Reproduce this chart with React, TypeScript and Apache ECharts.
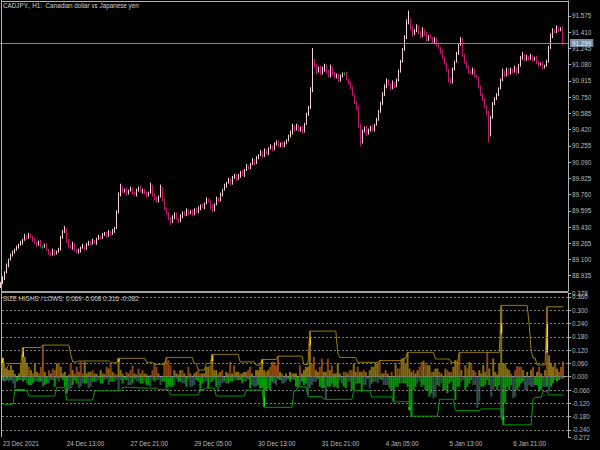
import React, { useEffect, useRef } from "react";
import * as echarts from "echarts";

// ---------- axis ticks & labels ----------
const priceTicks = [88.935, 89.1, 89.265, 89.43, 89.595, 89.76, 89.925, 90.09, 90.255, 90.42, 90.585, 90.75, 90.915, 91.08, 91.245, 91.41, 91.575];
const priceMin = 88.78;
const priceMax = 91.727;
const indTicks = [-0.24, -0.18, -0.12, -0.06, 0, 0.06, 0.12, 0.18, 0.24, 0.3, 0.36];
const indEdgeTicks = [-0.272, 0.378];
const indMin = -0.272;
const indMax = 0.378;
const gridLevels = [-0.24, -0.18, -0.12, -0.06, 0, 0.06, 0.12, 0.18, 0.24, 0.3, 0.36];
const timeLabels = ["23 Dec 2021", "24 Dec 13:00", "27 Dec 21:00", "29 Dec 05:00", "30 Dec 13:00", "31 Dec 21:00", "4 Jan 05:00", "5 Jan 13:00", "6 Jan 21:00"];
const LABEL_STEP = 32;
const bidPrice = 91.299;

// ---------- price data (H1 CADJPY) ----------
const firstOpen = 88.84;
const closes = [
  88.86, 88.91, 88.97, 89.04, 89.10, 89.14, 89.18, 89.20, 89.22, 89.25,
  89.27, 89.30, 89.34, 89.32, 89.35, 89.33, 89.30, 89.27, 89.25, 89.28,
  89.23, 89.23, 89.25, 89.20, 89.17, 89.15, 89.19, 89.16, 89.18, 89.20,
  89.32, 89.38, 89.41, 89.30, 89.24, 89.22, 89.26, 89.20, 89.17, 89.19,
  89.22, 89.24, 89.21, 89.25, 89.28, 89.26, 89.29, 89.27, 89.31, 89.33,
  89.32, 89.35, 89.37, 89.34, 89.38, 89.36, 89.39, 89.42, 89.58, 89.75,
  89.83, 89.79, 89.81, 89.77, 89.80, 89.82, 89.78, 89.76, 89.80, 89.83,
  89.79, 89.81, 89.77, 89.75, 89.78, 89.85, 89.76, 89.72, 89.69, 89.74,
  89.83, 89.71, 89.62, 89.56, 89.52, 89.48, 89.53, 89.57, 89.51, 89.49,
  89.54, 89.58, 89.55, 89.60, 89.57, 89.59, 89.56, 89.61, 89.58, 89.62,
  89.65, 89.63, 89.67, 89.71, 89.69, 89.64, 89.60, 89.66, 89.72, 89.70,
  89.76, 89.81, 89.85, 89.88, 89.91, 89.87, 89.93, 89.96, 89.92, 89.95,
  89.99, 89.96, 90.01, 90.05, 90.03, 90.07, 90.11, 90.08, 90.13, 90.16,
  90.19, 90.15, 90.21, 90.18, 90.23, 90.25, 90.22, 90.27, 90.30, 90.26,
  90.28, 90.25, 90.29, 90.31, 90.35, 90.39, 90.45, 90.42, 90.46, 90.41,
  90.44, 90.40, 90.48, 90.57, 90.64, 90.82, 91.11, 91.07, 91.01, 91.05,
  90.99, 91.03, 91.07, 91.01, 90.96, 91.05, 90.99, 90.95, 90.98, 90.92,
  90.96, 90.99, 90.99, 90.93, 90.90, 90.84, 90.77, 90.70, 90.64, 90.47,
  90.30, 90.40, 90.44, 90.38, 90.42, 90.45, 90.41, 90.47, 90.52, 90.60,
  90.68, 90.77, 90.86, 90.92, 90.88, 90.84, 90.90, 90.86, 90.92, 91.01,
  91.11, 91.23, 91.35, 91.51, 91.53, 91.45, 91.39, 91.43, 91.47, 91.41,
  91.37, 91.43, 91.39, 91.33, 91.37, 91.35, 91.31, 91.34, 91.29, 91.25,
  91.21, 91.15, 91.09, 91.03, 90.93, 90.90, 91.03, 91.11, 91.19, 91.28,
  91.33, 91.18, 91.11, 91.05, 91.01, 90.99, 91.03, 90.97, 90.95, 90.86,
  90.78, 90.72, 90.66, 90.60, 90.37, 90.54, 90.68, 90.74, 90.77, 90.84,
  90.92, 91.01, 90.97, 91.03, 90.99, 91.03, 91.01, 91.05, 91.00, 91.07,
  91.15, 91.18, 91.13, 91.16, 91.14, 91.17, 91.13, 91.15, 91.11, 91.08,
  91.09, 91.05, 91.07, 91.11, 91.25, 91.37, 91.43, 91.41, 91.45, 91.43,
  91.44, 91.299,
];
// wick lengths above / below the body, in hundredths of a yen
const wickUp = [
  1, 2, 1, 2, 1, 2, 1, 1, 2, 1,
  2, 1, 2, 1, 2, 1, 1, 2, 1, 1,
  2, 1, 1, 2, 1, 1, 2, 1, 1, 2,
  2, 2, 3, 1, 1, 1, 2, 1, 1, 2,
  1, 2, 1, 2, 1, 1, 2, 1, 1, 2,
  1, 2, 1, 1, 2, 1, 2, 1, 2, 3,
  4, 2, 1, 2, 1, 2, 1, 1, 2, 1,
  2, 1, 1, 2, 1, 3, 1, 1, 2, 1,
  3, 1, 1, 1, 2, 1, 2, 1, 1, 1,
  2, 1, 1, 2, 1, 1, 2, 1, 1, 2,
  1, 2, 1, 2, 1, 1, 2, 1, 2, 1,
  2, 1, 2, 1, 2, 1, 2, 1, 1, 2,
  1, 2, 1, 2, 1, 1, 2, 1, 2, 1,
  2, 1, 2, 1, 1, 2, 1, 2, 1, 1,
  1, 2, 1, 1, 2, 2, 3, 1, 2, 1,
  1, 2, 1, 2, 2, 3, 14, 3, 2, 1,
  2, 3, 2, 1, 2, 3, 1, 2, 1, 1,
  2, 1, 1, 2, 1, 1, 2, 1, 1, 2,
  1, 2, 1, 2, 1, 1, 2, 1, 2, 2,
  2, 3, 2, 2, 1, 1, 2, 1, 2, 2,
  2, 2, 3, 3, 10, 2, 2, 1, 2, 1,
  1, 3, 1, 2, 1, 2, 1, 2, 1, 1,
  1, 2, 1, 1, 1, 2, 2, 1, 2, 2,
  3, 2, 1, 1, 2, 1, 2, 1, 1, 1,
  1, 1, 2, 1, 1, 2, 2, 1, 2, 1,
  2, 3, 1, 2, 1, 2, 1, 2, 1, 2,
  2, 3, 1, 2, 1, 2, 1, 1, 2, 1,
  1, 2, 1, 2, 2, 3, 2, 1, 3, 2,
  2, 3,
];
const wickDn = [
  3, 1, 2, 1, 2, 1, 1, 2, 1, 1,
  1, 2, 1, 2, 1, 1, 2, 1, 2, 1,
  1, 2, 1, 1, 2, 2, 1, 2, 1, 1,
  1, 1, 1, 3, 2, 1, 2, 2, 1, 1,
  2, 1, 2, 1, 1, 2, 1, 1, 2, 1,
  2, 1, 1, 2, 1, 2, 1, 2, 1, 1,
  1, 2, 1, 2, 1, 1, 2, 1, 2, 1,
  1, 2, 1, 2, 1, 1, 2, 2, 1, 1,
  1, 2, 2, 1, 2, 3, 1, 2, 1, 2,
  1, 2, 1, 1, 2, 1, 2, 1, 1, 1,
  2, 1, 2, 1, 1, 3, 2, 1, 1, 2,
  1, 2, 1, 2, 1, 2, 1, 1, 2, 1,
  2, 1, 2, 1, 2, 1, 1, 2, 1, 1,
  1, 2, 1, 1, 2, 1, 2, 1, 1, 2,
  2, 1, 1, 2, 1, 1, 2, 2, 1, 1,
  1, 2, 1, 1, 1, 1, 2, 2, 3, 1,
  2, 1, 2, 2, 1, 1, 2, 1, 1, 2,
  1, 1, 2, 1, 2, 1, 1, 2, 2, 3,
  5, 2, 1, 2, 1, 2, 1, 1, 1, 1,
  1, 1, 1, 2, 1, 2, 1, 2, 1, 1,
  1, 1, 1, 1, 2, 2, 3, 1, 2, 2,
  2, 1, 2, 2, 1, 1, 2, 1, 2, 1,
  2, 1, 1, 2, 3, 2, 1, 1, 1, 1,
  1, 2, 2, 1, 2, 1, 1, 2, 1, 2,
  2, 1, 2, 3, 8, 2, 1, 1, 2, 1,
  1, 1, 2, 1, 2, 1, 2, 1, 2, 1,
  1, 2, 2, 1, 2, 1, 2, 1, 2, 2,
  1, 2, 1, 1, 1, 1, 2, 1, 1, 2,
  1, 2,
];

// ---------- indicator: SIZE HIGHS / LOWS (values in thousandths) ----------
const highSizeMilli = [
  85, 37, 35, 30, 52, 30, 12, 0, 15, 60,
  132, 90, 60, 45, 30, 15, 60, 22, 15, 45,
  143, 22, 0, 30, 15, 37, 30, 60, 60, 45,
  15, 22, 0, 10, 60, 30, 15, 45, 22, 67,
  15, 67, 15, 22, 22, 30, 15, 12, 0, 30,
  15, 12, 45, 37, 60, 22, 15, 10, 83, 30,
  15, 0, 22, 15, 30, 52, 15, 10, 37, 15,
  30, 15, 12, 0, 7, 30, 60, 45, 15, 0,
  5, 67, 87, 75, 52, 0, 30, 15, 10, 30,
  30, 15, 0, 45, 15, 0, 15, 22, 30, 15,
  15, 15, 45, 45, 52, 101, 30, 30, 15, 22,
  30, 0, 22, 15, 67, 15, 52, 22, 22, 15,
  15, 22, 22, 30, 45, 15, 0, 30, 30, 45,
  78, 30, 22, 30, 45, 67, 67, 52, 93, 22,
  15, 0, 15, 0, 22, 15, 15, 15, 0, 52,
  15, 30, 45, 45, 206, 60, 90, 30, 22, 45,
  82, 22, 22, 82, 30, 52, 15, 15, 60, 15,
  0, 22, 22, 15, 30, 30, 60, 22, 45, 22,
  22, 30, 22, 0, 30, 45, 45, 60, 60, 73,
  15, 15, 30, 15, 0, 22, 0, 60, 37, 37,
  82, 83, 60, 110, 37, 22, 30, 15, 30, 45,
  67, 72, 60, 52, 52, 22, 22, 37, 37, 22,
  15, 0, 37, 30, 22, 22, 45, 75, 67, 110,
  30, 0, 52, 37, 67, 60, 30, 22, 0, 30,
  15, 52, 22, 110, 37, 0, 82, 22, 10, 60,
  322, 60, 60, 37, 30, 15, 0, 30, 48, 45,
  45, 30, 0, 22, 0, 30, 45, 0, 22, 45,
  15, 0, 30, 316, 97, 60, 45, 60, 37, 22,
  45, 69,
];
// 0 = olive, 1 = brown
const highKind = [
  0, 0, 0, 0, 0, 0, 0, 0, 0, 0,
  0, 0, 0, 1, 0, 1, 0, 0, 1, 1,
  1, 0, 0, 1, 0, 1, 1, 0, 1, 0,
  0, 0, 0, 0, 1, 0, 1, 1, 0, 1,
  1, 0, 0, 0, 0, 1, 0, 0, 1, 0,
  0, 0, 1, 0, 1, 0, 1, 1, 0, 0,
  0, 0, 1, 0, 1, 1, 0, 0, 1, 0,
  1, 0, 0, 0, 0, 1, 1, 1, 0, 0,
  0, 1, 1, 1, 1, 0, 0, 0, 0, 0,
  1, 0, 0, 1, 0, 0, 0, 0, 1, 1,
  0, 0, 0, 0, 1, 0, 0, 0, 1, 0,
  1, 0, 0, 0, 1, 0, 1, 0, 0, 1,
  0, 0, 0, 1, 1, 0, 0, 0, 0, 0,
  0, 0, 1, 0, 1, 1, 1, 1, 1, 0,
  1, 0, 0, 0, 0, 1, 0, 0, 0, 1,
  0, 0, 0, 0, 0, 1, 1, 0, 0, 1,
  1, 0, 0, 1, 0, 1, 0, 0, 0, 0,
  0, 1, 1, 0, 1, 1, 0, 0, 1, 0,
  0, 1, 0, 0, 0, 0, 0, 0, 0, 1,
  0, 0, 1, 0, 0, 1, 0, 0, 1, 1,
  0, 0, 0, 0, 0, 0, 1, 0, 0, 1,
  1, 0, 1, 0, 0, 1, 0, 0, 0, 1,
  0, 0, 0, 1, 0, 1, 0, 0, 0, 1,
  0, 0, 0, 1, 0, 1, 0, 1, 0, 0,
  0, 0, 0, 1, 0, 0, 0, 0, 0, 0,
  0, 0, 0, 0, 0, 1, 0, 1, 1, 1,
  1, 0, 0, 0, 0, 0, 1, 0, 0, 1,
  0, 0, 0, 1, 0, 0, 0, 1, 0, 1,
  1, 1,
];
const lowSizeMilli = [
  15, 22, 15, 22, 15, 30, 52, 22, 15, 15,
  22, 15, 30, 37, 37, 30, 22, 22, 22, 22,
  45, 37, 30, 30, 15, 15, 45, 10, 22, 7,
  15, 45, 75, 60, 52, 37, 15, 30, 52, 45,
  30, 30, 30, 52, 45, 22, 22, 22, 15, 30,
  30, 15, 10, 37, 22, 22, 22, 15, 60, 15,
  30, 10, 15, 37, 37, 30, 10, 22, 22, 30,
  30, 22, 37, 37, 45, 15, 22, 15, 15, 37,
  22, 22, 52, 45, 45, 45, 37, 10, 22, 22,
  30, 30, 45, 10, 45, 45, 37, 15, 22, 52,
  30, 22, 22, 52, 30, 22, 10, 45, 67, 45,
  30, 22, 30, 30, 22, 22, 15, 15, 15, 15,
  30, 22, 22, 10, 52, 37, 45, 45, 37, 52,
  52, 90, 60, 52, 60, 22, 30, 37, 10, 15,
  30, 30, 22, 10, 22, 10, 15, 45, 45, 37,
  22, 37, 30, 82, 52, 37, 22, 22, 10, 45,
  52, 52, 102, 45, 45, 30, 45, 45, 52, 15,
  30, 45, 52, 22, 22, 60, 60, 37, 30, 30,
  67, 37, 37, 10, 52, 30, 22, 22, 30, 10,
  15, 37, 37, 37, 52, 60, 112, 45, 45, 30,
  30, 30, 30, 45, 150, 178, 60, 45, 30, 22,
  45, 37, 60, 60, 90, 75, 97, 90, 37, 45,
  30, 60, 60, 75, 30, 22, 60, 105, 45, 45,
  22, 15, 60, 45, 30, 15, 37, 37, 142, 112,
  45, 45, 37, 15, 37, 90, 60, 45, 60, 37,
  195, 217, 120, 45, 60, 37, 97, 90, 60, 45,
  30, 22, 60, 60, 37, 45, 45, 37, 37, 67,
  60, 45, 45, 45, 67, 45, 30, 15, 22, 15,
  10, 8,
];
// 0 = green, 1 = dark slate
const lowKind = [
  0, 1, 0, 1, 0, 1, 1, 0, 0, 1,
  0, 0, 1, 0, 0, 0, 1, 1, 0, 0,
  1, 0, 0, 1, 1, 1, 0, 1, 1, 0,
  0, 0, 0, 1, 1, 0, 0, 0, 1, 1,
  1, 0, 0, 1, 1, 0, 0, 1, 1, 0,
  0, 1, 1, 1, 0, 0, 1, 1, 1, 1,
  0, 0, 0, 1, 1, 0, 0, 1, 1, 0,
  0, 1, 0, 0, 1, 1, 0, 1, 1, 1,
  0, 0, 0, 0, 0, 0, 1, 1, 0, 0,
  1, 1, 0, 0, 1, 1, 1, 0, 0, 0,
  0, 1, 1, 0, 1, 0, 0, 0, 1, 1,
  1, 0, 1, 0, 0, 0, 1, 1, 0, 0,
  0, 1, 1, 0, 0, 1, 1, 1, 0, 0,
  0, 0, 0, 1, 0, 0, 1, 1, 0, 0,
  1, 1, 1, 0, 0, 0, 1, 0, 0, 1,
  0, 0, 0, 1, 1, 1, 1, 1, 0, 0,
  0, 0, 1, 0, 0, 0, 0, 0, 0, 1,
  1, 0, 0, 1, 1, 0, 0, 1, 0, 0,
  0, 1, 1, 0, 1, 0, 1, 1, 1, 0,
  0, 1, 1, 1, 0, 0, 0, 0, 0, 0,
  1, 0, 0, 0, 0, 0, 0, 0, 1, 1,
  0, 0, 0, 0, 0, 0, 1, 1, 0, 1,
  1, 0, 0, 0, 0, 0, 0, 0, 0, 0,
  1, 1, 0, 0, 0, 0, 1, 1, 1, 1,
  0, 0, 0, 0, 0, 1, 1, 0, 0, 0,
  1, 0, 0, 0, 0, 0, 1, 1, 0, 0,
  0, 0, 1, 1, 1, 1, 1, 0, 0, 0,
  0, 1, 1, 0, 1, 0, 0, 1, 0, 0,
  1, 0,
];
// step levels: [first bar index, level]
const upperSteps = [
  [0, 0.085], [1, 0.038], [3, 0.06], [10, 0.132], [20, 0.143], [34, 0.1], [35, 0.067], [38, 0.071],
  [54, 0.063], [58, 0.083], [72, 0.065], [76, 0.056], [82, 0.087], [96, 0.06], [98, 0.03], [102, 0.06],
  [105, 0.101], [119, 0.067], [127, 0.052], [130, 0.078], [138, 0.093], [151, 0.055], [154, 0.206],
  [168, 0.105], [169, 0.087], [178, 0.065], [189, 0.073], [201, 0.083], [203, 0.11], [217, 0.08],
  [225, 0.064], [229, 0.11], [250, 0.322], [264, 0.24], [265, 0.117], [266, 0.084], [268, 0.053], [273, 0.316],
];
const lowerSteps = [
  [0, -0.124], [6, -0.06], [13, -0.087], [27, -0.049], [32, -0.105], [46, -0.064], [60, -0.048],
  [68, -0.051], [78, -0.057], [84, -0.082], [99, -0.057], [102, -0.051], [107, -0.087], [122, -0.06],
  [131, -0.138], [146, -0.064], [148, -0.045], [153, -0.09], [161, -0.102], [176, -0.063], [185, -0.091],
  [196, -0.113], [205, -0.178], [219, -0.102], [227, -0.153], [240, -0.145], [251, -0.217], [266, -0.1],
  [267, -0.093], [271, -0.067], [274, -0.082],
];
// bright marks at breakouts: [bar index, from, to]
const yellowMarks = [
  [0, 0.06, 0.085], [10, 0.09, 0.13], [58, 0.068, 0.083], [105, 0.07, 0.1], [130, 0.062, 0.078],
  [154, 0.14, 0.18], [250, 0.195, 0.24], [273, 0.11, 0.245],
];
const greenMarks = [
  [99, -0.065, -0.055], [131, -0.135, -0.09], [204, -0.15, -0.137], [251, -0.195, -0.18],
];
const brightLowerFrom = 6;
const brightLowerTo = 11;

// ---------- colours ----------
const BG = "#000000";
const AXIS = "#B4B4B4";
const TEXT = "#BDBDBD";
const BULL = "#F2D4D2";
const BEAR = "#C21A6A";
const OLIVE = "#87700F";
const BROWN = "#8B4513";
const GREEN = "#009C00";
const DARK = "#2F4F4F";
const UPPER = "#9C8010";
const LOWER = "#00A000";
const FONT = "Liberation Sans";
const FS = 6.3;

function expandSteps(steps: number[][], n: number): number[] {
  const out: number[] = [];
  let k = 0;
  for (let i = 0; i < n; i++) {
    while (k + 1 < steps.length && steps[k + 1][0] <= i) k++;
    out.push(steps[k][1]);
  }
  return out;
}

export default function App() {
  const ref = useRef<HTMLDivElement | null>(null);

  useEffect(() => {
    if (!ref.current) return;
    const chart = echarts.init(ref.current, undefined, { renderer: "svg" });
    const N = closes.length;
    const SLOTS = N + 2;
    const categories = Array.from({ length: SLOTS }, (_, i) => String(i));

    const candles = closes.map((c, i) => {
      const o = i === 0 ? firstOpen : closes[i - 1];
      const hi = Math.max(o, c) + (wickUp[i] ?? 1) / 100;
      const lo = Math.min(o, c) - (wickDn[i] ?? 1) / 100;
      return [o, c, lo, hi];
    });
    const posData = closes.map((_, i) => ({
      value: (highSizeMilli[i] ?? 0) / 1000,
      itemStyle: { color: highKind[i] ? BROWN : OLIVE },
    }));
    const negData = closes.map((_, i) => ({
      value: -(lowSizeMilli[i] ?? 0) / 1000,
      itemStyle: { color: lowKind[i] ? DARK : GREEN },
    }));
    const upper = expandSteps(upperSteps, N);
    const lower = expandSteps(lowerSteps, N);
    const lowerBright = lower.map((v, i) => (i >= brightLowerFrom && i <= brightLowerTo ? v : null));

    const isLabel = (index: number) => index % LABEL_STEP === 0 && index / LABEL_STEP < timeLabels.length;

    const markRender = (color: string) => (params: any, api: any) => {
      const i = api.value(0);
      const p1 = api.coord([i, api.value(2)]);
      const p2 = api.coord([i, api.value(1)]);
      return {
        type: "rect",
        shape: { x: p1[0] - 1, y: Math.min(p1[1], p2[1]), width: 2, height: Math.abs(p2[1] - p1[1]) },
        style: { fill: color },
      };
    };

    const labelStyle = { color: TEXT, fontSize: FS, fontFamily: FONT };

    chart.setOption({
      animation: false,
      backgroundColor: BG,
      grid: [
        { left: 0, top: 1, width: 568, height: 290 },
        { left: 0, top: 293, width: 568, height: 144 },
      ],
      xAxis: [
        {
          type: "category", gridIndex: 0, data: categories, boundaryGap: true,
          axisLine: { show: false }, axisTick: { show: false }, axisLabel: { show: false }, splitLine: { show: false },
        },
        {
          type: "category", gridIndex: 1, data: categories, boundaryGap: true,
          axisLine: { show: true, lineStyle: { color: AXIS, width: 1 } },
          axisTick: { show: true, alignWithLabel: true, interval: (index: number) => isLabel(index), length: 4, lineStyle: { color: AXIS } },
          axisLabel: {
            ...labelStyle, align: "left", margin: 3,
            interval: (index: number) => isLabel(index),
            formatter: (_v: string, index: number) => timeLabels[Math.round(index / LABEL_STEP)] ?? "",
          },
          splitLine: { show: false },
        },
      ],
      yAxis: [
        {
          type: "value", gridIndex: 0, position: "right", min: priceMin, max: priceMax,
          splitLine: { show: false },
          axisLine: { show: true, lineStyle: { color: AXIS } },
          axisTick: { show: true, length: 3, customValues: priceTicks, lineStyle: { color: AXIS } },
          axisLabel: { ...labelStyle, margin: 4, customValues: priceTicks, formatter: (v: number) => v.toFixed(3) },
        },
        {
          type: "value", gridIndex: 1, position: "right", min: indMin, max: indMax,
          splitLine: { show: false },
          axisLine: { show: true, lineStyle: { color: AXIS } },
          axisTick: { show: true, length: 3, customValues: indTicks, lineStyle: { color: AXIS } },
          axisLabel: {
            ...labelStyle, margin: 4, customValues: indTicks, showMinLabel: true, showMaxLabel: true, hideOverlap: false,
            formatter: (v: number) => v.toFixed(3),
          },
        },
        {
          type: "value", gridIndex: 1, position: "right", min: indMin, max: indMax,
          splitLine: { show: false },
          axisLine: { show: false },
          axisTick: { show: true, length: 3, customValues: indEdgeTicks, lineStyle: { color: AXIS } },
          axisLabel: {
            ...labelStyle, margin: 4, customValues: indEdgeTicks, showMinLabel: true, showMaxLabel: true, hideOverlap: false,
            formatter: (v: number) => v.toFixed(3),
          },
        },
      ],
      series: [
        {
          type: "candlestick", name: "CADJPY", xAxisIndex: 0, yAxisIndex: 0, data: candles, barWidth: 1,
          itemStyle: { color: BULL, color0: BEAR, borderColor: BULL, borderColor0: BEAR, borderColorDoji: "#00C000", borderWidth: 1 },
          markLine: {
            silent: true, symbol: ["none", "none"], animation: false,
            lineStyle: { color: "#778899", width: 1, type: "solid" },
            label: {
              show: true, position: "end", distance: 2, formatter: bidPrice.toFixed(3),
              color: "#E6EEF6", backgroundColor: "#7A8AA0", padding: [1, 2, 1, 2], fontSize: FS, fontFamily: FONT,
            },
            data: [{ yAxis: bidPrice }],
          },
          z: 3,
        },
        {
          type: "line", name: "levels", xAxisIndex: 1, yAxisIndex: 1, data: upper, showSymbol: false, silent: true,
          lineStyle: { opacity: 0 }, z: 1,
          markLine: {
            silent: true, symbol: ["none", "none"], animation: false,
            lineStyle: { color: "#7C7C7C", width: 1, type: [2, 2] },
            label: { show: false },
            data: gridLevels.map((v) => ({ yAxis: v })),
          },
        },
        { type: "bar", name: "highs", xAxisIndex: 1, yAxisIndex: 1, data: posData, barWidth: 2, barGap: "-100%", z: 2 },
        { type: "bar", name: "lows", xAxisIndex: 1, yAxisIndex: 1, data: negData, barWidth: 2, barGap: "-100%", z: 2 },
        {
          type: "custom", name: "highMarks", xAxisIndex: 1, yAxisIndex: 1, data: yellowMarks,
          encode: { x: 0, y: [1, 2] }, renderItem: markRender("#FFD400"), z: 4,
        },
        {
          type: "custom", name: "lowMarks", xAxisIndex: 1, yAxisIndex: 1, data: greenMarks,
          encode: { x: 0, y: [1, 2] }, renderItem: markRender("#00F000"), z: 4,
        },
        {
          type: "line", name: "upper", xAxisIndex: 1, yAxisIndex: 1, data: upper, showSymbol: false,
          lineStyle: { color: UPPER, width: 1 }, z: 5,
        },
        {
          type: "line", name: "lower", xAxisIndex: 1, yAxisIndex: 1, data: lower, showSymbol: false,
          lineStyle: { color: LOWER, width: 1 }, z: 5,
        },
        {
          type: "line", name: "lowerBright", xAxisIndex: 1, yAxisIndex: 1, data: lowerBright, showSymbol: false,
          connectNulls: false, lineStyle: { color: "#00F000", width: 1 }, z: 6,
        },
      ],
      graphic: [
        { type: "line", shape: { x1: 1.5, y1: 0, x2: 1.5, y2: 437 }, style: { stroke: AXIS, lineWidth: 1 }, z: 10 },
        { type: "line", shape: { x1: 1, y1: 1.5, x2: 568, y2: 1.5 }, style: { stroke: AXIS, lineWidth: 1 }, z: 10 },
        { type: "rect", shape: { x: 1, y: 291, width: 567, height: 2 }, style: { fill: "#A0A0A0" }, z: 10 },
        {
          type: "text", x: 3, y: 5.5, z: 11,
          style: { text: "CADJPY., H1:  Canadian dollar vs Japanese yen", fill: "#D0D0D0", fontSize: FS, fontFamily: FONT, verticalAlign: "middle" },
        },
        {
          type: "text", x: 3, y: 298, z: 11,
          style: { text: "SIZE HIGHS / LOWS: 0.069 -0.008 0.316 -0.082", fill: "#D0D0D0", fontSize: FS, fontFamily: FONT, verticalAlign: "middle" },
        },
      ],
    });

    return () => chart.dispose();
  }, []);

  return (
    <div
      ref={ref}
      style={{ position: "absolute", left: 0, top: 0, width: 600, height: 450, background: BG }}
    />
  );
}
